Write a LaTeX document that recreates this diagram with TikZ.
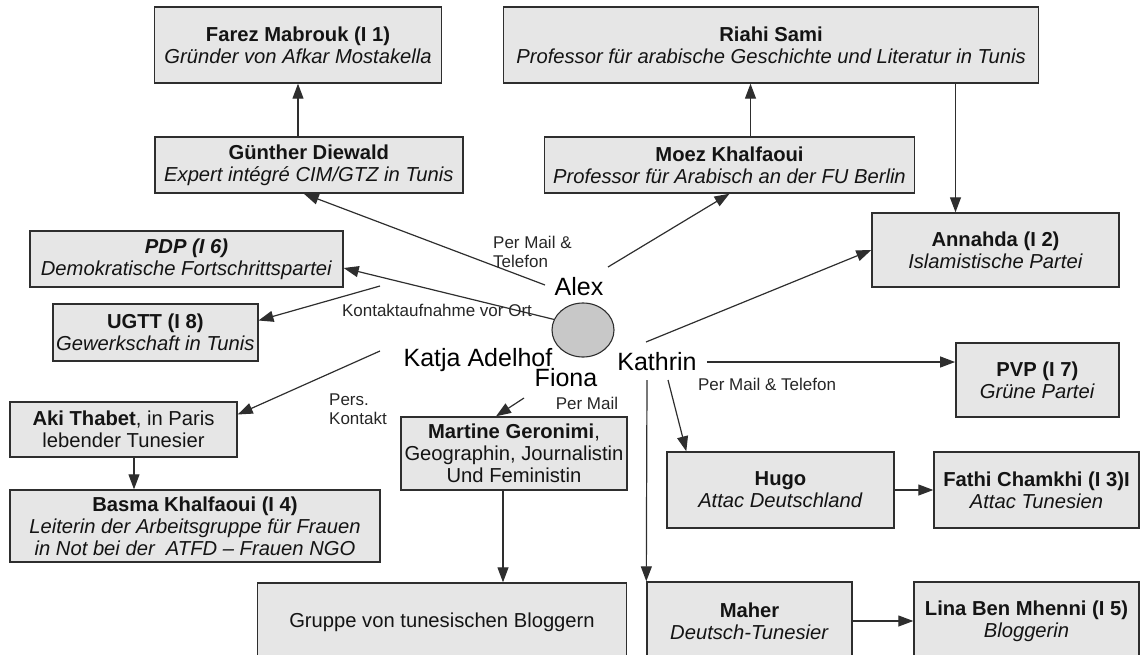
\documentclass[tikz,border=0pt]{standalone}
\usepackage{fontspec}
\setmainfont{Liberation Sans}
\usetikzlibrary{arrows.meta,shapes.geometric}
\definecolor{boxgray}{HTML}{E6E6E6}
\definecolor{hubgray}{HTML}{C8C8C8}
\definecolor{linegray}{HTML}{2E2E2E}
\tikzset{
  person/.style={draw=linegray, line width=1.4pt, fill=boxgray, inner sep=0pt,
    align=center, text=black!92, font=\fontsize{20.2}{22}\selectfont},
  who/.style={inner sep=0pt, font=\fontsize{25}{28}\selectfont},
  via/.style={inner sep=0pt, align=left, text=black!85, font=\fontsize{17}{18.5}\selectfont},
  link/.style={draw=linegray, line width=1.2pt, -{Triangle[length=15pt,width=11pt]}}
}
\begin{document}
\begin{tikzpicture}[x=1pt, y=-1pt]
    \useasboundingbox (0,0) rectangle (1141,654);
    \clip (0,0) rectangle (1141,654);
    % top row
    \node[person, minimum width=287pt, minimum height=76pt] (farez) at (298,45)
        {\textbf{Farez Mabrouk (I 1)}\\\textit{Gründer von Afkar Mostakella}};
    \node[person, minimum width=535pt, minimum height=76pt] (riahi) at (771,45)
        {\textbf{Riahi Sami}\\\textit{Professor für arabische Geschichte und Literatur in Tunis}};
    \node[person, minimum width=308pt, minimum height=56pt] (guenther) at (308.8,165)
        {\textbf{Günther Diewald}\\\textit{Expert intégré CIM/GTZ in Tunis}};
    \node[person, minimum width=370pt, minimum height=56pt] (moez) at (729.5,165)
        {\textbf{Moez Khalfaoui}\\\textit{Professor für Arabisch an der FU Berlin}};
    \node[person, minimum width=247pt, minimum height=74pt] (annahda) at (995.5,250)
        {\textbf{Annahda (I 2)}\\\textit{Islamistische Partei}};
    % left side
    \node[person, minimum width=313pt, minimum height=56pt] (pdp) at (186.5,259)
        {\textbf{\textit{PDP (I 6)}}\\\textit{Demokratische Fortschrittspartei}};
    \node[person, minimum width=205pt, minimum height=57pt] (ugtt) at (155.3,332.5)
        {\textbf{UGTT (I 8)}\\\textit{Gewerkschaft in Tunis}};
    \node[person, minimum width=227pt, minimum height=55pt] (aki) at (123.5,429.5)
        {\textbf{Aki Thabet}, in Paris\\lebender Tunesier};
    \node[person, minimum width=370pt, minimum height=72pt] (basma) at (195,526)
        {\textbf{Basma Khalfaoui (I 4)}\\\textit{Leiterin der Arbeitsgruppe für Frauen}\\\textit{in Not bei der \ ATFD -- Frauen NGO}};
    \node[person, minimum width=226pt, minimum height=73pt] (martine) at (514,453.5)
        {\textbf{Martine Geronimi},\\Geographin, Journalistin\\Und Feministin};
    \node[person, minimum width=369pt, minimum height=78pt] (gruppe) at (442,622)
        {Gruppe von tunesischen Bloggern};
    % right side
    \node[person, minimum width=163pt, minimum height=74pt] (pvp) at (1037.3,380)
        {\textbf{PVP (I 7)}\\\textit{Grüne Partei}};
    \node[person, minimum width=227pt, minimum height=76pt] (hugo) at (780.5,490)
        {\textbf{Hugo}\\\textit{Attac Deutschland}};
    \node[person, minimum width=205pt, minimum height=76pt] (fathi) at (1036.5,490)
        {\textbf{Fathi Chamkhi (I 3)I}\\\textit{Attac Tunesien}};
    \node[person, minimum width=205pt, minimum height=78pt] (maher) at (749.5,621)
        {\textbf{Maher}\\\textit{Deutsch-Tunesier}};
    \node[person, minimum width=225pt, minimum height=78pt] (lina) at (1026.5,621)
        {\textbf{Lina Ben Mhenni (I 5)}\\\textit{Bloggerin}};
    % hub and team
    \node[ellipse, draw=linegray, line width=1.1pt, fill=hubgray, inner sep=0pt,
        minimum width=62pt, minimum height=54pt] (hub) at (583,330) {};
    \node[who] (alex) at (579,287) {Alex};
    \node[who] (katja) at (478,360) {Katja Adelhof};
    \node[who] (fiona) at (566,378) {Fiona};
    \node[who] (kathrin) at (657,362) {Kathrin};
    % connector labels
    \node[via, anchor=west] (telA) at (493,252) {Per Mail \&\\Telefon};
    \node[via] (vorort) at (437,310) {Kontaktaufnahme vor Ort};
    \node[via, anchor=west] (pers) at (329,409) {Pers.\\Kontakt};
    \node[via] (mailF) at (587,403) {Per Mail};
    \node[via] (telK) at (767,384) {Per Mail \& Telefon};
    % start points
    \coordinate (alexW) at (545,285);
    \coordinate (alexNE) at (608,267);
    \coordinate (ortW) at (380,286);
    \coordinate (katjaW) at (380,351);
    \coordinate (fionaS) at (524,398);
    \coordinate (kathrinN) at (646,342);
    \coordinate (kathrinS) at (668,380);
    \coordinate (kathrinSW) at (647,380);
    \coordinate (moezUp) at ([xshift=21pt]moez.north);
    \coordinate (annIn) at ([xshift=-40pt]annahda.north);
    \coordinate (akiOut) at ([xshift=10.5pt]aki.south);
    \coordinate (martOut) at ([xshift=-11pt]martine.south);
    % connectors
    \draw[link] (alexW) -- ([xshift=-5pt]guenther.south);
    \draw[link] (alexNE) -- (moez.south);
    \draw[link] (hub.160) -- ([yshift=-9pt]pdp.east);
    \draw[link] (ortW) -- ([yshift=12pt]ugtt.east);
    \draw[link] (katjaW) -- ([yshift=15pt]aki.east);
    \draw[link] (fionaS) -- ([xshift=-18pt]martine.north);
    \draw[link] (kathrinN) -- (annahda.west);
    \draw[link] ([xshift=10pt]kathrin.east) -- (kathrin.east -| pvp.west);
    \draw[link] (kathrinS) -- ([xshift=20pt]hugo.north west);
    \draw[link] (kathrinSW) -- (maher.north west);
    \draw[link] (guenther.north -| farez.south) -- (farez.south);
    \draw[link] (moezUp) -- (moezUp |- riahi.south);
    \draw[link] (annIn |- riahi.south) -- (annIn);
    \draw[link] (akiOut) -- (akiOut |- basma.north);
    \draw[link] (martOut) -- (martOut |- gruppe.north);
    \draw[link] (hugo.east) -- (fathi.west);
    \draw[link] (maher.east) -- (lina.west);
\end{tikzpicture}
\end{document}
